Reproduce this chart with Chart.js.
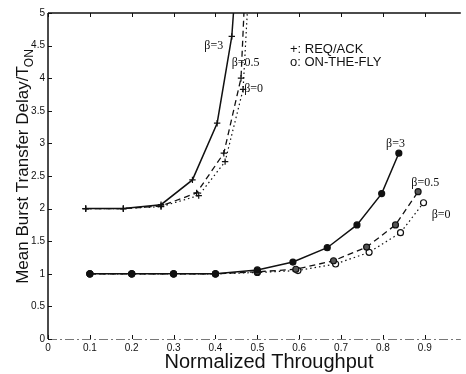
<!DOCTYPE html>
<html>
<head>
<meta charset="utf-8">
<script src="https://cdn.jsdelivr.net/npm/chart.js@4/dist/chart.umd.min.js"></script>
<style>
  html, body { margin: 0; padding: 0; background: #fff; }
  #wrap { width: 466px; height: 374px; }
</style>
</head>
<body>
<div id="wrap"><canvas id="chart" width="466" height="374"></canvas></div>
<script>
// --- Data ---
const xTicks = [0, 0.1, 0.2, 0.3, 0.4, 0.5, 0.6, 0.7, 0.8, 0.9];
const yTicks = [0, 0.5, 1, 1.5, 2, 2.5, 3, 3.5, 4, 4.5, 5];

// REQ/ACK (+ markers); last point of each is where the curve leaves the top
const reqX3 = [0.09, 0.18, 0.27, 0.345, 0.404, 0.439, 0.443];
const reqY3 = [2.0, 2.0, 2.06, 2.44, 3.31, 4.64, 5.0];
const reqX05 = [0.09, 0.18, 0.27, 0.355, 0.42, 0.461, 0.468];
const reqY05 = [2.0, 2.0, 2.04, 2.24, 2.85, 4.0, 5.0];
const reqX0 = [0.09, 0.18, 0.27, 0.36, 0.423, 0.466, 0.476];
const reqY0 = [2.0, 2.0, 2.03, 2.2, 2.72, 3.83, 5.0];

// ON-THE-FLY (o markers)
const flyX3 = [0.1, 0.2, 0.3, 0.4, 0.5, 0.585, 0.667, 0.738, 0.797, 0.838];
const flyY3 = [1.0, 1.0, 1.0, 1.0, 1.06, 1.18, 1.4, 1.75, 2.23, 2.85];
const flyX05 = [0.1, 0.2, 0.3, 0.4, 0.5, 0.592, 0.682, 0.761, 0.83, 0.884];
const flyY05 = [1.0, 1.0, 1.0, 1.0, 1.03, 1.07, 1.2, 1.41, 1.75, 2.26];
const flyX0 = [0.1, 0.2, 0.3, 0.4, 0.5, 0.597, 0.687, 0.767, 0.842, 0.897];
const flyY0 = [1.0, 1.0, 1.0, 1.0, 1.02, 1.05, 1.15, 1.33, 1.63, 2.09];

// curve labels, in data coordinates
const curveLabels = [
  { text: "\u03b2=3", x: 0.396, y: 4.49 },
  { text: "\u03b2=0.5", x: 0.472, y: 4.23 },
  { text: "\u03b2=0", x: 0.491, y: 3.83 },
  { text: "\u03b2=3", x: 0.83, y: 3.0 },
  { text: "\u03b2=0.5", x: 0.901, y: 2.39 },
  { text: "\u03b2=0", x: 0.939, y: 1.9 }
];
const legendLines = ["+: REQ/ACK", "o: ON-THE-FLY"];

function pts(xs, ys) {
  return xs.map((x, i) => ({ x: x, y: ys[i] }));
}

function series(xs, ys, dash, width, style, fill) {
  return {
    data: pts(xs, ys),
    borderColor: "#111",
    borderWidth: width,
    borderDash: dash,
    pointStyle: style,
    pointRadius: (c) => (c.raw && c.raw.y >= 5 ? 0 : (style === "cross" ? 3.2 : 3)),
    pointBorderWidth: 1.2,
    pointBorderColor: "#111",
    pointBackgroundColor: fill,
    tension: 0,
    fill: false
  };
}

// --- Extra drawing: frame, inward ticks, titles, labels ---
const decor = {
  id: "decor",
  afterDraw(chart) {
    const { ctx, chartArea: a, scales } = chart;
    const xs = scales.x, ys = scales.y;
    ctx.save();
    ctx.strokeStyle = "#111";
    ctx.lineWidth = 1.5;
    ctx.beginPath();
    ctx.moveTo(a.left, a.top);
    ctx.lineTo(a.right, a.top);
    ctx.moveTo(a.left, a.top);
    ctx.lineTo(a.left, a.bottom);
    ctx.stroke();

    // bottom axis (faint, broken like the scan)
    ctx.strokeStyle = "#777";
    ctx.lineWidth = 1;
    ctx.setLineDash([9, 3, 2, 3]);
    ctx.beginPath();
    ctx.moveTo(a.left, a.bottom + 0.5);
    ctx.lineTo(a.right, a.bottom + 0.5);
    ctx.stroke();
    ctx.setLineDash([]);

    ctx.strokeStyle = "#111";
    ctx.lineWidth = 1;
    ctx.beginPath();
    xTicks.forEach((v) => {
      const px = Math.round(xs.getPixelForValue(v)) + 0.5;
      ctx.moveTo(px, a.bottom);
      ctx.lineTo(px, a.bottom - 4);
      ctx.moveTo(px, a.top);
      ctx.lineTo(px, a.top + 4);
    });
    yTicks.forEach((v) => {
      const py = Math.round(ys.getPixelForValue(v)) + 0.5;
      ctx.moveTo(a.left, py);
      ctx.lineTo(a.left + 4, py);
    });
    ctx.stroke();

    // curve labels
    ctx.fillStyle = "#111";
    ctx.font = "12px 'Liberation Serif', serif";
    ctx.textAlign = "center";
    ctx.textBaseline = "middle";
    curveLabels.forEach((l) => {
      ctx.fillText(l.text, xs.getPixelForValue(l.x), ys.getPixelForValue(l.y));
    });

    // legend text
    ctx.font = "13px 'Liberation Sans', Arial, sans-serif";
    ctx.textAlign = "left";
    legendLines.forEach((t, i) => {
      ctx.fillText(t, a.left + 242, a.top + 36 + i * 13);
    });

    // x title
    ctx.font = "20px 'Liberation Sans', Arial, sans-serif";
    ctx.textAlign = "center";
    ctx.textBaseline = "alphabetic";
    ctx.fillText("Normalized Throughput", 269, 368);

    // y title with subscript
    ctx.translate(28, 166);
    ctx.rotate(-Math.PI / 2);
    const main = "Mean Burst Transfer Delay/T";
    const sub = "ON";
    ctx.font = "17px 'Liberation Sans', Arial, sans-serif";
    const wMain = ctx.measureText(main).width;
    ctx.font = "12px 'Liberation Sans', Arial, sans-serif";
    const wSub = ctx.measureText(sub).width;
    const start = -(wMain + wSub) / 2;
    ctx.textAlign = "left";
    ctx.font = "17px 'Liberation Sans', Arial, sans-serif";
    ctx.fillText(main, start, 0);
    ctx.font = "12px 'Liberation Sans', Arial, sans-serif";
    ctx.fillText(sub, start + wMain - 1, 5);
    ctx.restore();
  }
};

const tickFont = { family: "'Liberation Sans', Arial, sans-serif", size: 10 };

new Chart(document.getElementById("chart"), {
  type: "line",
  data: {
    datasets: [
      series(reqX3, reqY3, [], 1.5, "cross", "#111"),
      series(reqX05, reqY05, [6, 4], 1.3, "cross", "#111"),
      series(reqX0, reqY0, [1.5, 3], 1.2, "cross", "#111"),
      series(flyX3, flyY3, [], 1.5, "circle", "#111"),
      series(flyX05, flyY05, [6, 4], 1.3, "circle", "#555"),
      series(flyX0, flyY0, [1.5, 3], 1.2, "circle", "#fff")
    ]
  },
  options: {
    responsive: false,
    animation: false,
    layout: { padding: { top: 13, right: 0, left: 0, bottom: 0 } },
    plugins: { legend: { display: false }, tooltip: { enabled: false } },
    scales: {
      x: {
        type: "linear",
        min: 0,
        max: 0.986,
        afterBuildTicks: (s) => { s.ticks = xTicks.map((v) => ({ value: v })); },
        afterFit: (s) => { s.height = 35; },
        grid: { display: false, drawTicks: false },
        border: { display: false },
        ticks: {
          color: "#111",
          font: tickFont,
          padding: 3,
          maxRotation: 0,
          callback: (v) => String(v)
        }
      },
      y: {
        type: "linear",
        min: 0,
        max: 5,
        afterBuildTicks: (s) => { s.ticks = yTicks.map((v) => ({ value: v })); },
        afterFit: (s) => { s.width = 48; },
        grid: { display: false, drawTicks: false },
        border: { display: false },
        ticks: {
          color: "#111",
          font: tickFont,
          padding: 3,
          callback: (v) => String(v)
        }
      }
    }
  },
  plugins: [decor]
});
</script>
</body>
</html>
